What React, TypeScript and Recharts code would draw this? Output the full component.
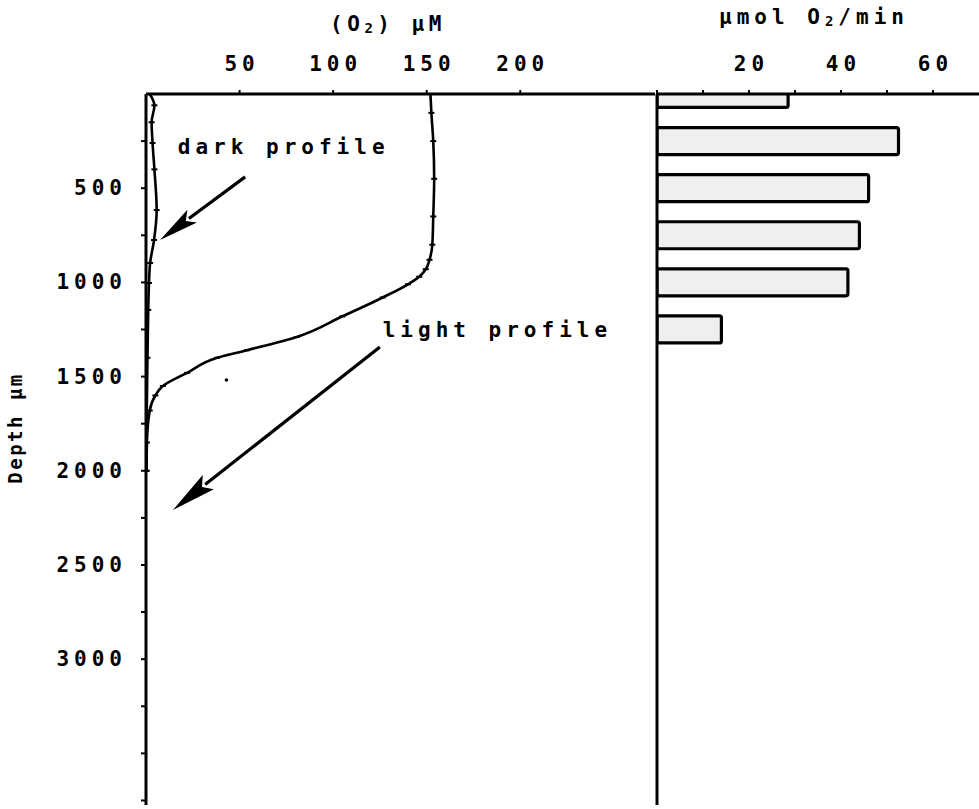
import React from 'react';
import { LineChart, Line, XAxis, YAxis, ReferenceLine, ReferenceDot, BarChart, Bar } from 'recharts';

// ---------- data ----------
const depthTicks = [250, 500, 750, 1000, 1250, 1500, 1750, 2000, 2250, 2500, 2750, 3000, 3250, 3500, 3750];
const depthLabels = [500, 1000, 1500, 2000, 2500, 3000];
const o2Ticks = [50, 100, 150, 200];
const rateTicks = [0, 10, 20, 30, 40, 50, 60];
const rateLabels = [20, 40, 60];

const lightDepth = [0, 100, 250, 450, 650, 800, 880, 930, 970, 1010, 1080, 1180, 1290, 1360, 1400, 1480, 1550, 1600, 1680, 1850, 2000];
const lightO2 = [152, 152.5, 153.5, 154, 153.5, 153, 151.5, 149.5, 146, 140, 126.5, 105, 80.5, 54, 38, 22, 9, 5, 2, 0.5, 0.3];

const darkDepth = [0, 60, 150, 260, 400, 616, 775, 897, 1003, 1146, 1400, 1700, 2000];
const darkO2 = [2, 4.5, 3, 3.5, 4.5, 5.7, 4.3, 2.2, 1.6, 1.2, 0.8, 0.4, 0.2];

const barDepth = [0, 250, 500, 750, 1000, 1250];
const barRate = [28.5, 52.5, 46, 44, 41.5, 14];

const strayPoint = { o2: 43, depth: 1518 };
const darkArrow = { from: { o2: 53, depth: 440 }, to: { o2: 7.5, depth: 775 } };
const lightArrow = { from: { o2: 125, depth: 1343 }, to: { o2: 14.4, depth: 2208 } };
const darkText = { o2: 17, depth: 281, text: 'dark profile' };
const lightText = { o2: 126.5, depth: 1253, text: 'light profile' };

const lightData = lightDepth.map((d, i) => ({ depth: d, o2: lightO2[i] }));
const darkData = darkDepth.map((d, i) => ({ depth: d, o2: darkO2[i] }));
const barData = barDepth.map((d, i) => ({ depth: d, rate: barRate[i] }));

// ---------- style ----------
const FONT = "'DejaVu Sans Mono', monospace";
const FS = 21;
const LS = 5;
const DEPTH_MAX = 3774;

const textStyle = { fontFamily: FONT, fontSize: FS, letterSpacing: LS, fill: '#000', fontWeight: 'bold' as const };

const TopTick = (labels: number[]) => (props: any) => {
  const { x, y, payload } = props;
  if (!labels.includes(payload.value)) return <g />;
  return (
    <text x={x + LS / 2} y={y - 19} textAnchor="middle" {...textStyle}>
      {payload.value}
    </text>
  );
};

const DepthTick = (props: any) => {
  const { x, y, payload } = props;
  if (!depthLabels.includes(payload.value)) return <g />;
  return (
    <text x={x + LS} y={y} textAnchor="end" dominantBaseline="central" {...textStyle}>
      {payload.value}
    </text>
  );
};

const arrowShape = (headLen: number, headW: number) => (p: any) => {
  const { x1, y1, x2, y2 } = p;
  const dx = x2 - x1;
  const dy = y2 - y1;
  const L = Math.hypot(dx, dy) || 1;
  const ux = dx / L;
  const uy = dy / L;
  const bx = x2 - ux * headLen;
  const by = y2 - uy * headLen;
  const px = -uy;
  const py = ux;
  return (
    <g>
      <line x1={x1} y1={y1} x2={bx + ux * 4} y2={by + uy * 4} stroke="#000" strokeWidth={3.2} />
      <polygon
        points={`${x2},${y2} ${bx + px * headW},${by + py * headW} ${bx + ux * 8},${by + uy * 8} ${bx - px * headW},${by - py * headW}`}
        fill="#000"
      />
    </g>
  );
};

const textLabel = (text: string) => (props: any) => {
  const vb = props.viewBox || {};
  return (
    <text x={vb.x} y={vb.y} dominantBaseline="central" {...textStyle}>
      {text}
    </text>
  );
};

const TickDot = (props: any) => {
  const { cx, cy } = props;
  if (cx == null || cy == null) return <g />;
  return <line x1={cx - 3} y1={cy} x2={cx + 3} y2={cy} stroke="#000" strokeWidth={2} />;
};

export default function App() {
  return (
    <div style={{ position: 'absolute', left: 0, top: 0, width: 979, height: 809, overflow: 'hidden', background: '#fff' }}>
      <div style={{ position: 'absolute', left: 0, top: 0 }}>
        <LineChart width={655} height={809} layout="vertical" margin={{ top: 54, right: 0, bottom: 4, left: 86 }}>
          <XAxis
            type="number"
            orientation="top"
            domain={[0, 272]}
            allowDataOverflow
            ticks={o2Ticks}
            height={40}
            tickSize={4}
            tickMargin={0}
            axisLine={{ stroke: '#000', strokeWidth: 2.8 }}
            tickLine={{ stroke: '#000', strokeWidth: 2 }}
            tick={TopTick(o2Ticks)}
            label={{
              content: () => (
                <text x={388} y={24} textAnchor="middle" dominantBaseline="central" {...textStyle} letterSpacing={4.5}>
                  (O<tspan fontSize={14} dy={4}>2</tspan><tspan dy={-4}>)  µM</tspan>
                </text>
              ),
            }}
          />
          <YAxis
            type="number"
            dataKey="depth"
            domain={[0, DEPTH_MAX]}
            allowDataOverflow
            ticks={depthTicks}
            width={60}
            tickSize={5}
            tickMargin={19}
            axisLine={{ stroke: '#000', strokeWidth: 3 }}
            tickLine={{ stroke: '#000', strokeWidth: 2 }}
            tick={DepthTick}
            label={{
              content: () => (
                <text
                  x={15}
                  y={428}
                  transform="rotate(-90 15 428)"
                  textAnchor="middle"
                  dominantBaseline="central"
                  fontFamily={FONT}
                  fontSize={19}
                  fontWeight="bold"
                  letterSpacing={2.5}
                  fill="#000"
                >
                  Depth µm
                </text>
              ),
            }}
          />
          <Line
            data={darkData}
            dataKey="o2"
            type="monotone"
            stroke="#000"
            strokeWidth={2.6}
            dot={<TickDot />}
            isAnimationActive={false}
          />
          <Line
            data={lightData}
            dataKey="o2"
            type="monotone"
            stroke="#000"
            strokeWidth={2.6}
            dot={<TickDot />}
            isAnimationActive={false}
          />
          <ReferenceDot x={strayPoint.o2} y={strayPoint.depth} r={1.8} fill="#000" stroke="none" />
          <ReferenceLine
            segment={[
              { x: darkArrow.from.o2, y: darkArrow.from.depth },
              { x: darkArrow.to.o2, y: darkArrow.to.depth },
            ]}
            shape={arrowShape(40, 8)}
          />
          <ReferenceLine
            segment={[
              { x: lightArrow.from.o2, y: lightArrow.from.depth },
              { x: lightArrow.to.o2, y: lightArrow.to.depth },
            ]}
            shape={arrowShape(45, 9)}
          />
          <ReferenceDot x={darkText.o2} y={darkText.depth} r={0} fill="none" stroke="none" label={{ content: textLabel(darkText.text) }} />
          <ReferenceDot x={lightText.o2} y={lightText.depth} r={0} fill="none" stroke="none" label={{ content: textLabel(lightText.text) }} />
        </LineChart>
      </div>
      <div style={{ position: 'absolute', left: 600, top: 0 }}>
        <BarChart width={379} height={809} layout="vertical" data={barData} margin={{ top: 54, right: 0, bottom: 4, left: 56 }}>
          <XAxis
            type="number"
            orientation="top"
            domain={[0, 70]}
            allowDataOverflow
            ticks={rateTicks}
            height={40}
            tickSize={4}
            tickMargin={0}
            axisLine={{ stroke: '#000', strokeWidth: 2.8 }}
            tickLine={{ stroke: '#000', strokeWidth: 2 }}
            tick={TopTick(rateLabels)}
            label={{
              content: () => (
                <text x={214} y={17} textAnchor="middle" dominantBaseline="central" {...textStyle} letterSpacing={5}>
                  µmol  O<tspan fontSize={14} dy={4}>2</tspan><tspan dy={-4}>/min</tspan>
                </text>
              ),
            }}
          />
          <YAxis
            type="number"
            dataKey="depth"
            domain={[0, DEPTH_MAX]}
            allowDataOverflow
            width={1}
            tick={false}
            tickLine={false}
            axisLine={{ stroke: '#000', strokeWidth: 3 }}
          />
          <Bar dataKey="rate" barSize={27} fill="#efefef" stroke="#000" strokeWidth={3.2} radius={2} isAnimationActive={false} />
        </BarChart>
      </div>
    </div>
  );
}
